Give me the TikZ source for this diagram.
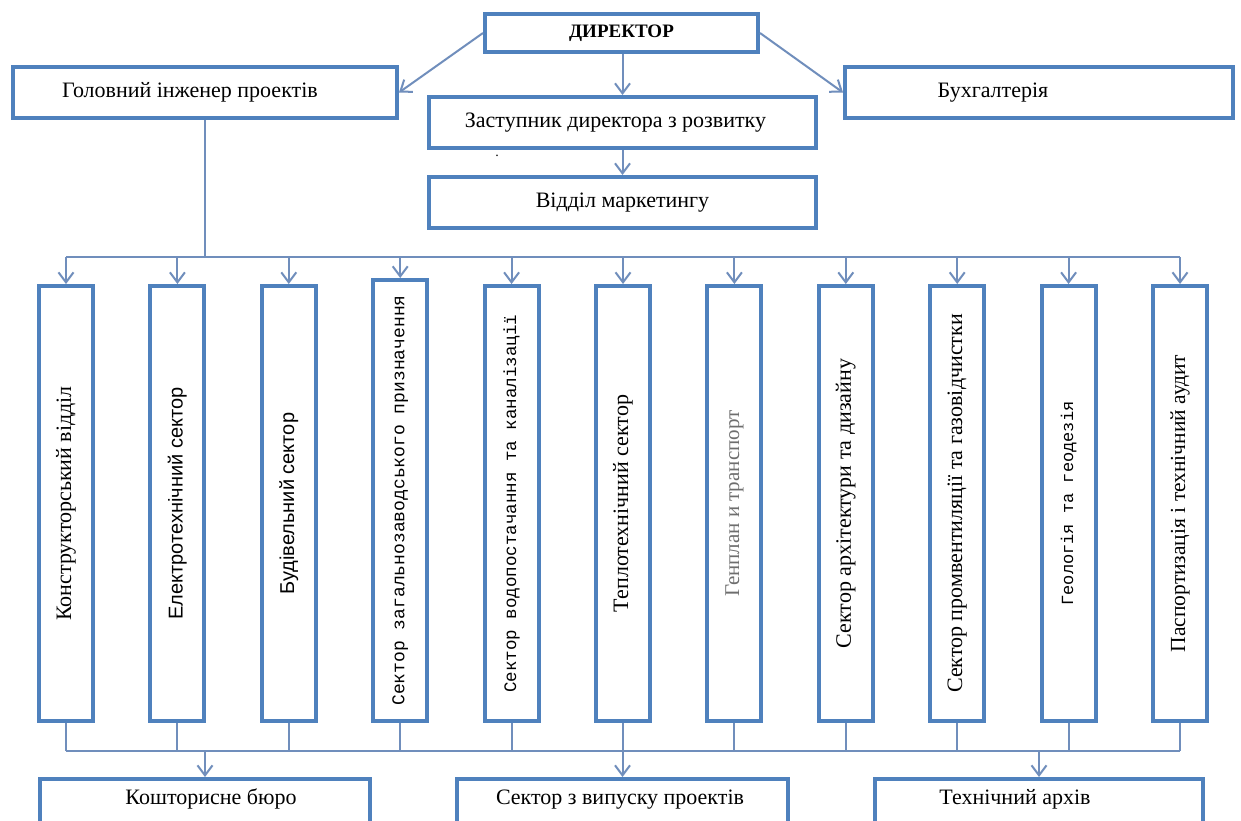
\documentclass[tikz,border=0pt]{standalone}
\usepackage{fontspec}
\setmainfont{Liberation Serif}
\newfontfamily\sansf{Liberation Sans}
\newfontfamily\monof{Liberation Mono}
\usetikzlibrary{arrows.meta}
\definecolor{boxc}{RGB}{79,129,189}
\definecolor{linec}{RGB}{112,142,188}
\definecolor{graytxt}{RGB}{110,110,110}
\def\fSer{\fontsize{22}{26}\selectfont}
\def\fSans{\sansf\fontsize{20}{24}\selectfont}
\def\fMono{\monof\fontsize{17.5}{21}\selectfont}
\begin{document}
\begin{tikzpicture}[x=1pt,y=-1pt,
  hbox/.style={draw=boxc,line width=4pt,minimum width=384pt,minimum height=51pt,inner sep=0pt,font=\fSer},
  vbox/.style={draw=boxc,line width=4pt,minimum width=54pt,minimum height=435pt,inner sep=0pt},
  bbox/.style={draw=boxc,line width=4pt,minimum height=50pt,inner sep=0pt,anchor=north,font=\fSer,text depth=14pt},
  conn/.style={draw=linec,line width=2pt},
  arr/.style={conn,-{Straight Barb[length=10pt,width=15pt,line width=2pt]}}]
\clip (0,0) rectangle (1241,821);
\fill[white] (0,0) rectangle (1241,821);

% top level
\node[hbox,minimum width=273pt,minimum height=38pt,font=\bfseries\fontsize{19}{22}\selectfont] (dir) at (621.5,33) {ДИРЕКТОР};
\node[hbox] (gol) at (205,92.5) {\hspace*{-30pt}Головний інженер проектів};
\node[hbox,minimum width=387pt] (zast) at (622.5,122.5) {\hspace*{-14pt}Заступник директора з розвитку};
\node[hbox,minimum width=387pt] (mark) at (622.5,202.5) {Відділ маркетингу};
\node[hbox,minimum width=388pt] (buh) at (1039,92.5) {\hspace*{-92pt}Бухгалтерія};
\node[inner sep=0pt,font=\fontsize{14}{16}\selectfont] (dot) at (497,156) {.};

% vertical boxes
\node[vbox] (v1) at (66,503.5) {\rotatebox{90}{\fSer Конструкторський відділ}};
\node[vbox] (v2) at (177.4,503.5) {\rotatebox{90}{\fSans Електротехнічний сектор}};
\node[vbox] (v3) at (288.8,503.5) {\rotatebox{90}{\fSans Будівельний сектор}};
\node[vbox,minimum height=441pt] (v4) at (400.2,500.5) {\rotatebox{90}{\monof\fontsize{18}{21}\selectfont Сектор загальнозаводського призначення}};
\node[vbox] (v5) at (511.6,503.5) {\rotatebox{90}{\fMono Сектор водопостачання та каналізації}};
\node[vbox] (v6) at (623,503.5) {\rotatebox{90}{\fSer Теплотехнічний сектор}};
\node[vbox] (v7) at (734.4,503.5) {\rotatebox{90}{\color{graytxt}\fontsize{21}{25}\selectfont Генплан и транспорт}};
\node[vbox] (v8) at (845.8,503.5) {\rotatebox{90}{\fSer Сектор архітектури та дизайну}};
\node[vbox] (v9) at (957.2,503.5) {\rotatebox{90}{\fSer Сектор промвентиляції та газовідчистки}};
\node[vbox] (v10) at (1068.6,503.5) {\rotatebox{90}{\monof\fontsize{17}{20}\selectfont Геологія та геодезія}};
\node[vbox] (v11) at (1180,503.5) {\rotatebox{90}{\fontsize{21.5}{25}\selectfont Паспортизація і технічний аудит}};

% bottom boxes
\node[bbox,minimum width=330pt] (kosh) at (205,777) {\hspace*{12pt}Кошторисне бюро};
\node[bbox,minimum width=331pt] (vyp) at (622.5,777) {\hspace*{-5pt}Сектор з випуску проектів};
\node[bbox,minimum width=328pt] (arch) at (1039,777) {\hspace*{-48pt}Технічний архів};

% connectors top
\draw[arr] (dir.west) -- (gol.east);
\draw[arr] (dir.east) -- (buh.west);
\draw[arr] (zast.north |- dir.south) -- (zast.north);
\draw[arr] (zast.south) -- (mark.north);

\coordinate (tl) at (66,257);
\coordinate (tr) at (1180,257);
\draw[conn] (gol.south) -- (gol.south |- tl);
\draw[conn] (tl) -- (tr);
\foreach \v in {v1,v2,v3,v4,v5,v6,v7,v8,v9,v10,v11}
  \draw[arr] (\v.north |- tl) -- (\v.north);

% connectors bottom
\coordinate (bl) at (66,751);
\coordinate (br) at (1180,751);
\foreach \v in {v1,v2,v3,v4,v5,v6,v7,v8,v9,v10,v11}
  \draw[conn] (\v.south) -- (\v.south |- bl);
\draw[conn] (bl) -- (br);
\draw[arr] (kosh.north |- bl) -- (kosh.north);
\draw[arr] (vyp.north |- bl) -- (vyp.north);
\draw[arr] (arch.north |- bl) -- (arch.north);
\end{tikzpicture}
\end{document}
